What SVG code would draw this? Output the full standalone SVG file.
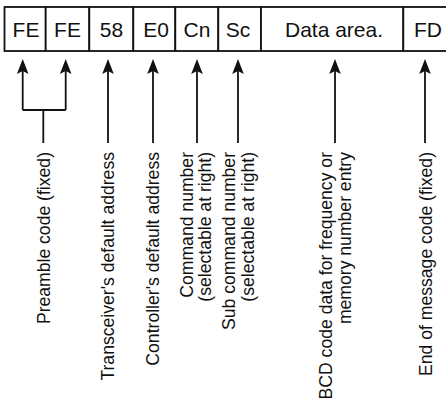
<svg xmlns="http://www.w3.org/2000/svg" width="446" height="403" viewBox="0 0 446 403">
<style>
.cell{fill:#fff;stroke:#111;stroke-width:1.8}
.ct{font-family:"Liberation Sans",Arial,sans-serif;font-size:21px;fill:#111;text-anchor:middle}
.lb{font-family:"Liberation Sans",Arial,sans-serif;font-size:17.6px;fill:#111;text-anchor:end}
.ln{fill:none;stroke:#111;stroke-width:1.8}
.ar{marker-end:url(#ah)}
</style>
<defs>
<marker id="ah" markerUnits="userSpaceOnUse" orient="auto" refX="0" refY="0" markerWidth="20" markerHeight="20" viewBox="-10 -10 20 20" overflow="visible">
<path d="M7,0 L-8,-5.8 L-5,0 L-8,5.8 Z" fill="#111"/>
</marker>
</defs>
<rect width="446" height="403" fill="#fff"/>
<g id="cell-fe1"><rect class="cell" x="4.5" y="7" width="41.2" height="44"/><text class="ct" x="26" y="37">FE</text></g>
<g id="cell-fe2"><rect class="cell" x="45.7" y="7" width="43.6" height="44"/><text class="ct" x="67.5" y="37">FE</text></g>
<g id="cell-58"><rect class="cell" x="89.3" y="7" width="44" height="44"/><text class="ct" x="111.5" y="37">58</text></g>
<g id="cell-e0"><rect class="cell" x="133.3" y="7" width="42" height="44"/><text class="ct" x="156" y="37">E0</text></g>
<g id="cell-cn"><rect class="cell" x="175.3" y="7" width="43" height="44"/><text class="ct" x="197" y="37">Cn</text></g>
<g id="cell-sc"><rect class="cell" x="218.3" y="7" width="42.7" height="44"/><text class="ct" x="238" y="37">Sc</text></g>
<g id="cell-data"><rect class="cell" x="261" y="7" width="142.3" height="44"/><text class="ct" x="334" y="37">Data area.</text></g>
<g id="cell-fd"><rect class="cell" x="403.3" y="7" width="44" height="44"/><text class="ct" x="428" y="37">FD</text></g>
<g id="connectors">
<path class="ln ar" d="M22.7,110 V66"/>
<path class="ln ar" d="M65.7,110 V66"/>
<path class="ln" d="M22.7,110 H65.7 M43.3,110 V143"/>
<path class="ln ar" d="M108,143 V66"/>
<path class="ln ar" d="M153,143 V66"/>
<path class="ln ar" d="M197,143 V66"/>
<path class="ln ar" d="M238,143 V66"/>
<path class="ln ar" d="M335,143 V66"/>
<path class="ln ar" d="M425,143 V66"/>
</g>
<g id="label-preamble"><text class="lb" transform="translate(50,152) rotate(-90)">Preamble code (fixed)</text></g>
<g id="label-transceiver"><text class="lb" transform="translate(114,152) rotate(-90)">Transceiver's default address</text></g>
<g id="label-controller"><text class="lb" transform="translate(159,152) rotate(-90)">Controller's default address</text></g>
<g id="label-command"><text class="lb" transform="translate(193,152) rotate(-90)">Command number</text><text class="lb" transform="translate(211,152) rotate(-90)">(selectable at right)</text></g>
<g id="label-subcommand"><text class="lb" transform="translate(235,152) rotate(-90)">Sub command number</text><text class="lb" transform="translate(254,152) rotate(-90)">(selectable at right)</text></g>
<g id="label-bcd"><text class="lb" transform="translate(332,152) rotate(-90)">BCD code data for frequency or</text><text class="lb" transform="translate(351,152) rotate(-90)">memory number entry</text></g>
<g id="label-end"><text class="lb" transform="translate(432,152) rotate(-90)">End of message code (fixed)</text></g>
</svg>
